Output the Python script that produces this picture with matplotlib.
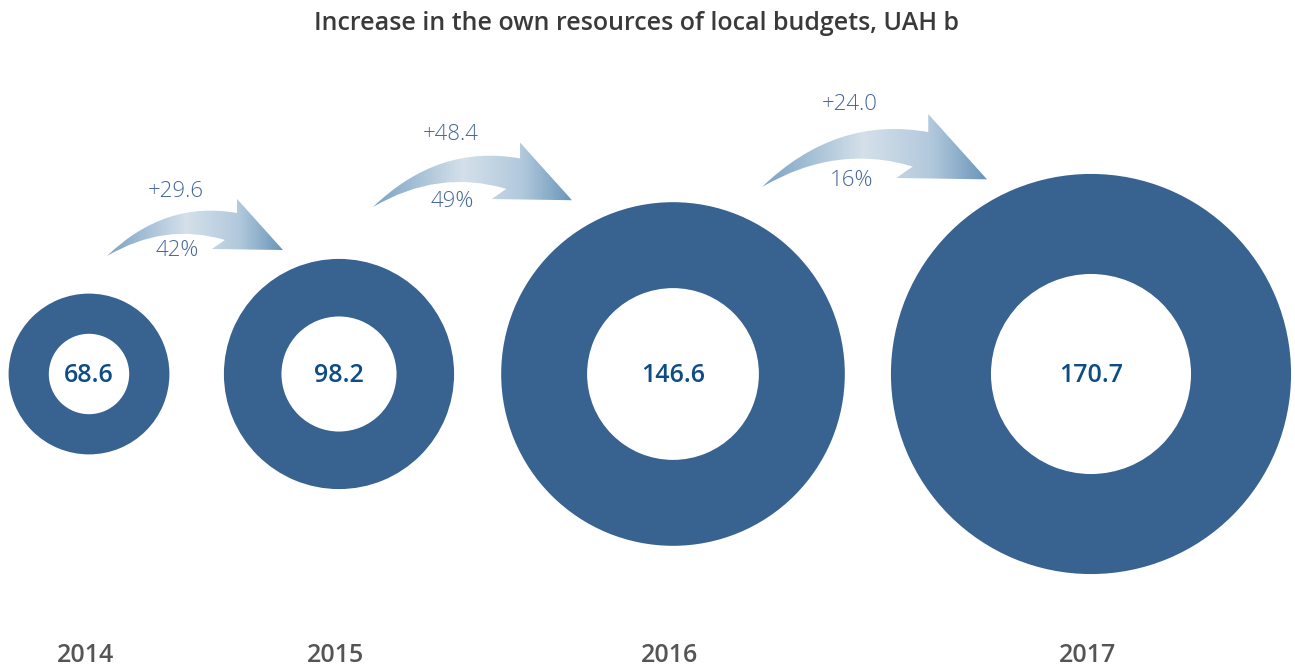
import numpy as np
import matplotlib
matplotlib.use("Agg")
import matplotlib.pyplot as plt
from matplotlib.patches import Wedge, PathPatch
from matplotlib.path import Path
from matplotlib.colors import LinearSegmentedColormap

# data
years = ["2014", "2015", "2016", "2017"]
values = [68.6, 98.2, 146.6, 170.7]
increase_labels = ["+29.6", "+48.4", "+24.0"]
percent_labels = ["42%", "49%", "16%"]
title = "Increase in the own resources of local budgets, UAH b"

# layout (pixel coordinates, y down)
centers_x = [89, 339, 673, 1091]
center_y = 374
year_y = 655
r_scale = 1.172           # radius proportional to value
arrow_tails = [(107, 256, 176), (373, 207, 199), (762, 187, 225)]  # tail x, tail y, width

ring_color = "#386290"
value_color = "#0d4c86"
arrow_text_color = "#44679a"

plt.rcParams['font.family'] = ['Open Sans', 'DejaVu Sans']

fig = plt.figure(figsize=(12.95, 6.70), dpi=100)
ax = fig.add_axes([0, 0, 1, 1])
ax.set_axis_off()

# donuts
for cx, val, yr in zip(centers_x, values, years):
    r = val * r_scale
    ax.add_patch(Wedge((cx, center_y), r, 0, 360, width=r * 0.5,
                       facecolor=ring_color, edgecolor="none"))
    ax.text(cx, center_y + 2, f"{val:.1f}", ha="center", va="center",
            fontsize=18, color=value_color, fontweight="semibold")
    ax.text(cx - 3, year_y, yr, ha="center", va="center",
            fontsize=18, color="#555555", fontweight="semibold")

# curved arrow template in units of arrow width (u right, v up)
tmpl = [(0.0, 0.0), (0.33, 0.318), (0.739, 0.244), (0.739, 0.324),
        (1.0, 0.034), (0.597, 0.040), (0.670, 0.091), (0.33, 0.193), (0.0, 0.0), (0.0, 0.0)]
codes = [Path.MOVETO, Path.CURVE3, Path.CURVE3, Path.LINETO, Path.LINETO,
         Path.LINETO, Path.LINETO, Path.CURVE3, Path.CURVE3, Path.CLOSEPOLY]

cmap = LinearSegmentedColormap.from_list(
    "arr", [(0, "#7aa2c3"), (0.45, "#d4e0ea"), (0.75, "#b2c9dc"), (1, "#6995b9")])
grad = np.linspace(0, 1, 256).reshape(1, -1)

for (tx, ty, w), inc, pct in zip(arrow_tails, increase_labels, percent_labels):
    verts = [(tx + u * w, ty - v * w) for u, v in tmpl]
    patch = PathPatch(Path(verts, codes), facecolor="none", edgecolor="none")
    ax.add_patch(patch)
    im = ax.imshow(grad, cmap=cmap, aspect="auto", interpolation="bilinear",
                   extent=(tx, tx + w, ty + 5, ty - 0.34 * w))
    im.set_clip_path(patch)
    ax.text(tx + 0.39 * w, ty - 0.365 * w, inc, ha="center", va="center",
            fontsize=16, color=arrow_text_color, fontweight="light")
    ax.text(tx + 0.40 * w, ty - 0.03 * w, pct, ha="center", va="center",
            fontsize=16, color=arrow_text_color, fontweight="light")

ax.text(636, 24, title, ha="center", va="center", fontsize=18,
        color="#3a3a3a", fontweight="semibold")

ax.set_xlim(0, 1295)
ax.set_ylim(670, 0)

fig.savefig("out.png", dpi=100, facecolor="white")
